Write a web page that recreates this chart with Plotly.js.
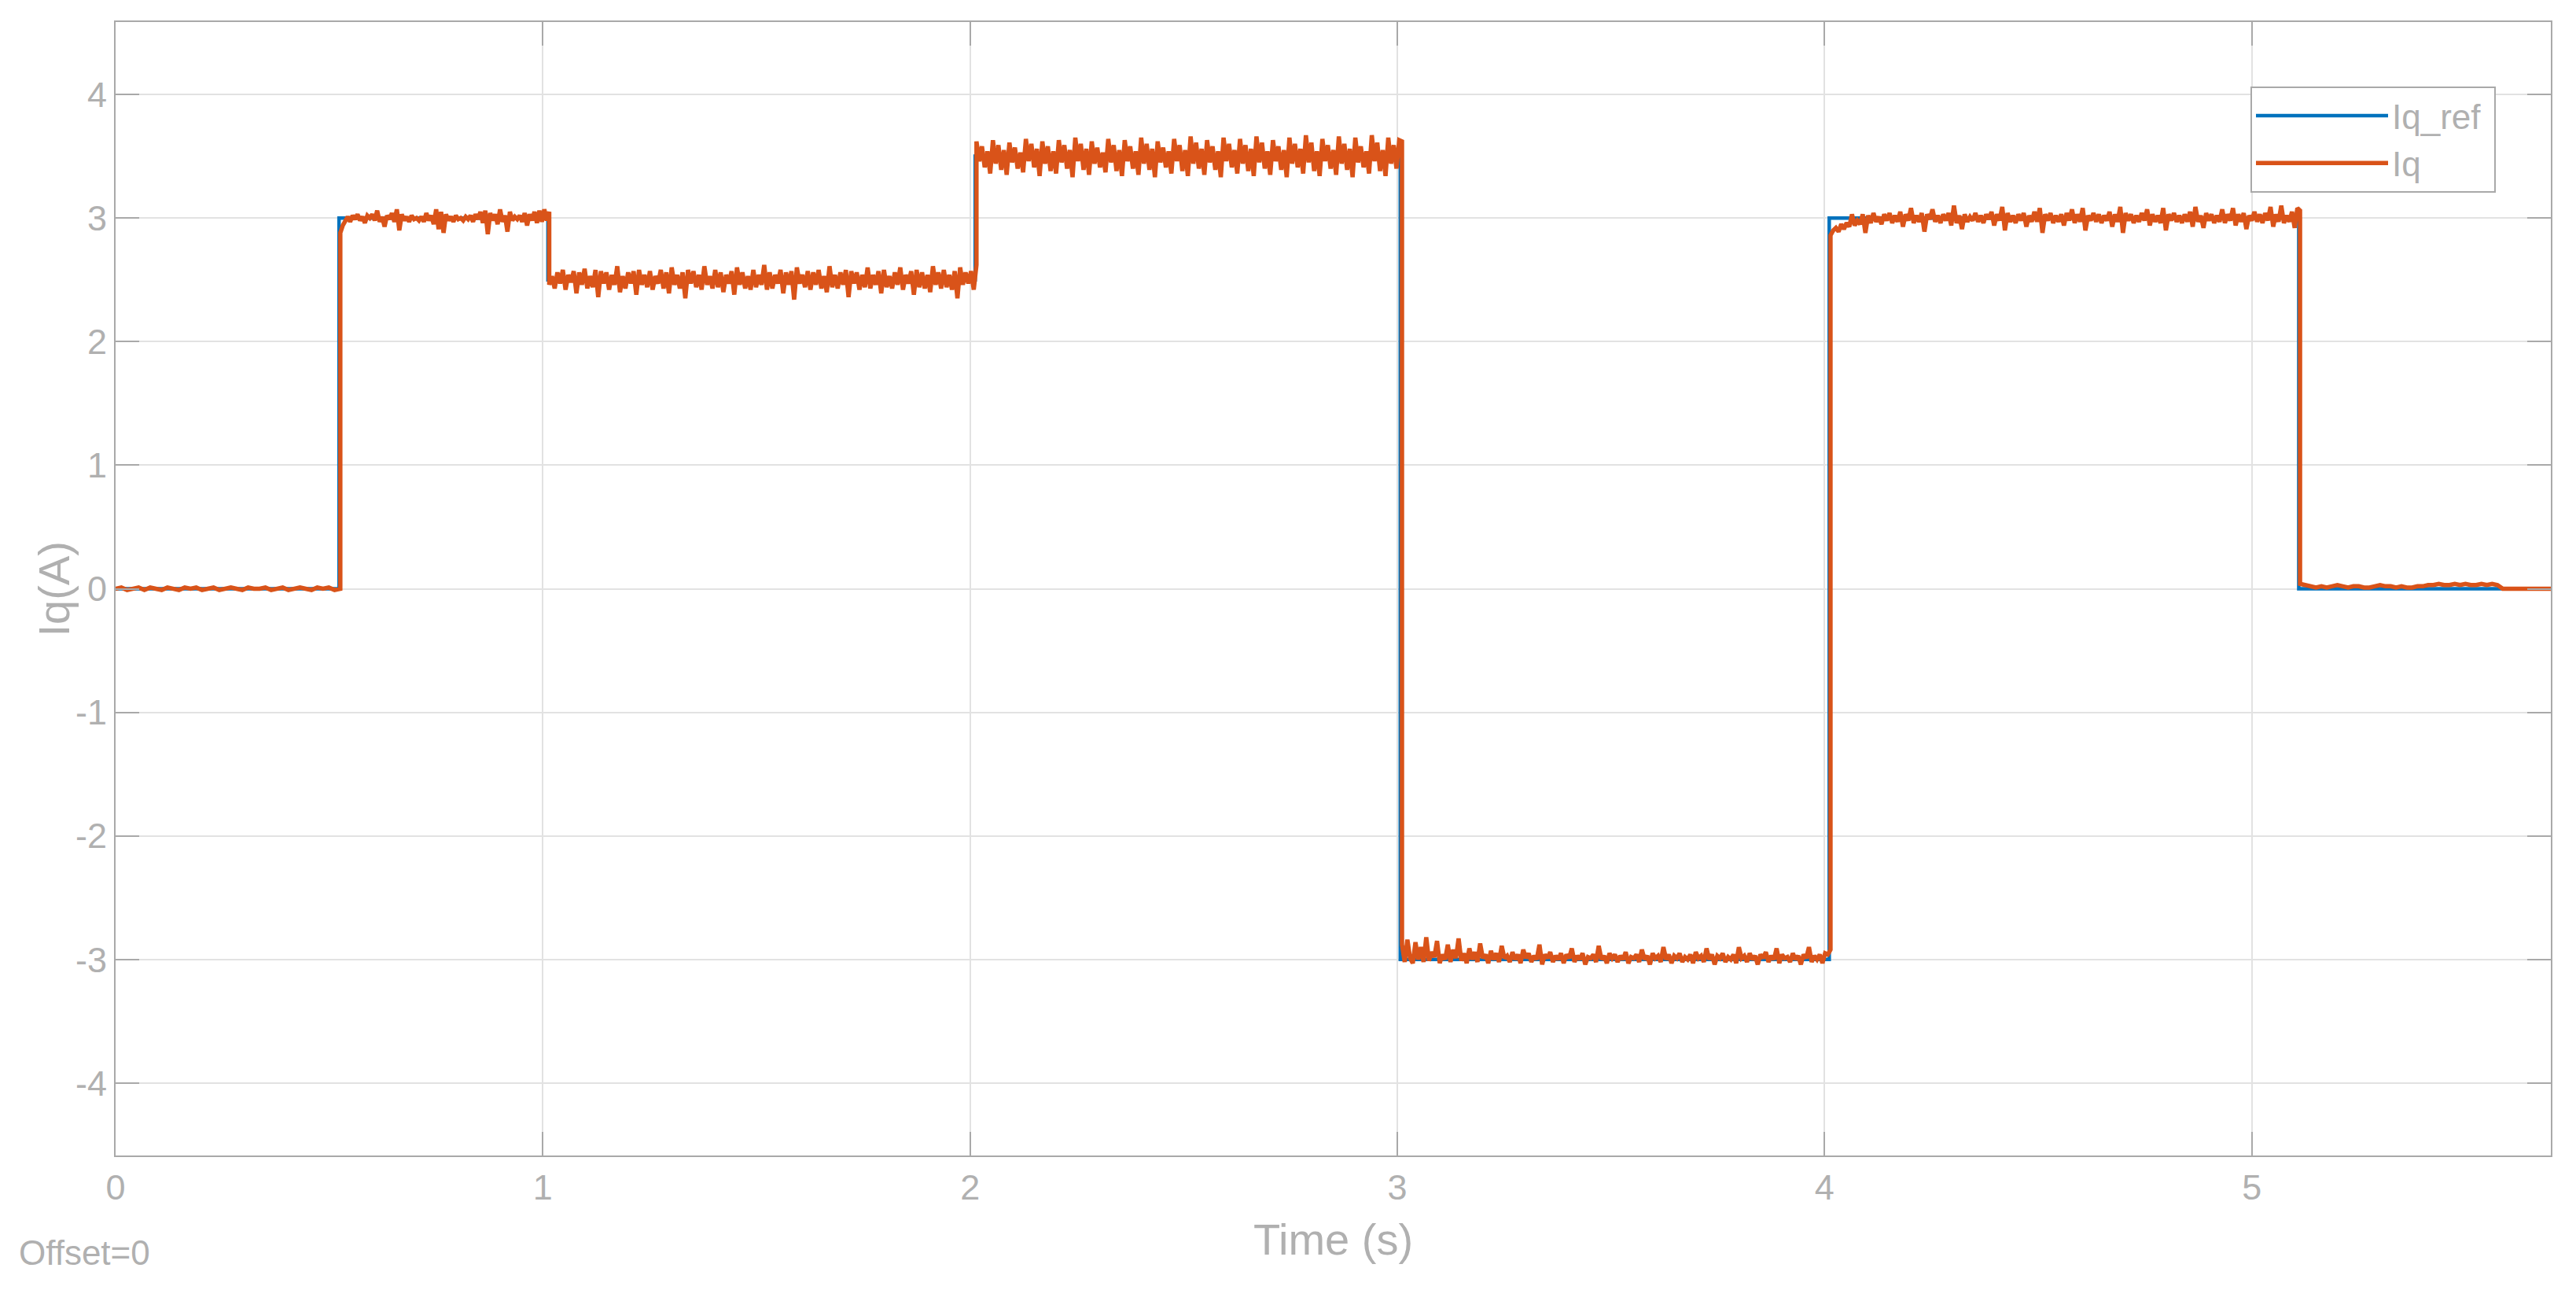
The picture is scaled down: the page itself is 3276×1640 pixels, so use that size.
<!DOCTYPE html>
<html>
<head>
<meta charset="utf-8">
<script src="https://cdn.plot.ly/plotly-3.0.1.min.js"></script>
<style>
html,body{margin:0;padding:0;background:#fff;}
#chart{width:3276px;height:1640px;}
</style>
</head>
<body>
<div id="chart"></div>
<script>
// ---- Reference current Iq_ref (step signal) ----
const refTimes  = [0, 0.523, 1.012, 2.012, 3.007, 4.011, 5.110, 5.7];
const refLevels = [0, 3, 2.5, 3.5, -3, 3, 0, 0];

// ---- Measured current Iq: segment bounds and levels ----
const segStart  = [0, 0.526, 1.015, 2.015, 3.011, 4.014, 5.113];
const segEnd    = [0.526, 1.015, 2.015, 3.011, 4.014, 5.113, 5.7];
const segLevel  = [0, 3, 2.5, 3.5, -3, 3, 0];

// deviations from the level, in units of 0.01 A, read (estimated) from the picture
const devA = [0,1,-1,0,1,-1,1,0,-1,1,0,-1,1,0,1,-1,0,1,-1,0,1,0,-1,1,0,0,1,-1,0,1,-1,0,1,0,-1,1,0,1,-1,0];
const devB = [-12,-6,-2,1,-3,2,-1,3,-2,1,-4,2,0,3,-2,6,-3,1,-7,2,-1,4,-3,7,-10,3,-2,1,-3,2,-1,0,-2,1,-3,4,-2,2,-5,7,-9,5,-12,3,-2,1,-3,2,-1,0,-2,1,-1,2,-3,3,-1,5,-4,6,-13,4,-2,3,-5,7,-3,2,-11,5,-2,1,-1,2,-3,4,-6,3,-2,5,-4,6,-3,7,-2,5];
const devC = [-4,3,-7,6,-3,8,-8,4,-2,7,-11,6,-4,9,-7,3,-6,8,-14,7,-3,6,-8,4,-4,11,-10,3,-7,6,-3,7,-12,8,-4,4,-6,7,-8,3,
  -3,8,-7,6,-11,10,-4,4,-7,6,-15,8,-3,7,-6,4,-8,11,-4,3,-7,8,-6,6,-10,4,-3,7,-12,10,-4,6,-7,3,-8,8,-6,4,-4,12,
  -8,6,-7,4,-3,8,-11,6,-4,7,-16,10,-3,4,-6,7,-8,6,-4,8,-7,3,-10,11,-6,4,-7,6,-4,8,-14,7,-3,6,-8,4,-6,10,
  -7,4,-4,7,-11,8,-6,3,-7,6,-4,10,-8,4,-3,7,-12,8,-6,6,-7,4,-10,11,-4,6,-7,8,-6,4,-8,7,-15,10,-4,6,-3,7,-8,12];
const devD = [12,-4,8,-9,4,-14,  13,-6,9,-11,5,-15,  11,-5,7,-10,3,-13,  14,-4,10,-9,6,-16,
  12,-6,8,-12,4,-14,  13,-5,9,-10,5,-17,  15,-4,10,-11,6,-15,  12,-6,7,-9,3,-13,
  14,-5,9,-12,5,-16,  13,-4,8,-10,4,-15,  15,-6,10,-11,6,-17,  12,-5,7,-9,4,-14,
  14,-4,9,-12,5,-16,  16,-6,11,-10,6,-15,  13,-5,8,-11,4,-17,  15,-4,10,-9,5,-14,
  14,-6,9,-12,6,-16,  16,-5,11,-10,4,-15,  13,-4,8,-11,5,-17,  15,-6,10,-9,6,-14,
  17,-5,11,-12,4,-16,  14,-4,9,-10,5,-15,  16,-6,10,-11,6,-17,  15,-5,8,-9,4,-14,
  17,-4,11,-12,5,-16,  15,-6,9,-10,13,12];
const devE = [12,-2,16,1,-3,14,0,10,-2,18,
  -1,6,2,15,-3,4,0,12,-2,8,
  1,17,-1,5,-3,9,0,6,-2,13,
  1,4,-3,7,0,5,-2,11,1,3,
  -2,6,0,4,-3,8,1,5,-2,3,
  0,12,-4,4,1,6,-2,3,0,5,
  -3,4,1,9,-2,3,0,5,-4,2,
  1,4,-2,11,0,3,-3,5,1,4,
  -2,3,0,6,-3,2,1,4,-2,8,
  0,3,-4,5,1,3,-2,10,0,4,
  -3,3,1,5,-2,2,0,4,-3,6,
  1,3,-2,9,0,4,-4,3,1,5,
  -2,2,0,4,-3,10,1,3,-2,5,
  0,3,-4,4,1,6,-2,3,0,9,
  -3,4,1,2,-2,5,0,3,-4,4,
  1,10,-2,3,0,4,-3,5,4,8];
const devF = [-14,-10,-8,-11,-5,-9,-4,-7,3,-6,
  -2,-5,3,-12,2,-4,4,-3,1,-5,
  3,-2,4,-4,2,-3,5,-7,3,-2,
  8,-4,2,-3,4,-11,3,-1,7,-3,
  2,-4,3,-2,4,-6,10,-4,2,-9,
  3,-3,1,-2,4,-3,2,-4,3,-1,
  5,-6,3,-2,9,-10,4,-3,2,-4,
  3,-2,4,-7,2,-3,5,-3,8,-12,
  3,-2,4,-4,2,-3,3,-6,4,-2,
  7,-4,3,-3,8,-10,2,-2,4,-3,
  3,-4,2,-2,5,-7,3,-3,9,-12,
  4,-2,3,-4,2,-3,4,-2,7,-6,
  3,-3,2,-4,8,-10,3,-2,4,-3,
  2,-4,3,-3,5,-7,9,-3,2,-8,
  4,-2,3,-4,2,-3,7,-4,3,-2,
  8,-6,3,-3,4,-9,2,-2,5,-3,
  3,-4,4,-2,9,-7,3,-3,10,-4,
  2,-3,5,-8,8,6];
const devG = [4,3,2,1,2,1,2,3,2,1,2,2,1,1,2,3,2,2,1,2,1,1,2,2,3,3,4,3,3,4,3,4,3,3,4,3,4,3,0,0,0,0,0,0,0,0,0,0];

const devAll = [devA, devB, devC, devD, devE, devF, devG];

const xTicks = [0, 1, 2, 3, 4, 5];
const yTicks = [-4, -3, -2, -1, 0, 1, 2, 3, 4];

// build Iq series from the segment tables
const iqT = [], iqV = [];
for (let k = 0; k < devAll.length; k++) {
  const d = devAll[k], n = d.length;
  for (let i = 0; i < n; i++) {
    iqT.push(segStart[k] + i * (segEnd[k] - segStart[k]) / (n - 1));
    iqV.push(segLevel[k] + d[i] / 100);
  }
}

const gray = '#a9a9a9';
const txt = '#b0b0b0';
const fam = 'Liberation Sans, Arial, sans-serif';

const traces = [
  {x: refTimes, y: refLevels, type: 'scatter', mode: 'lines', name: 'Iq_ref\u00a0',
   line: {color: '#0072BD', width: 4.5, shape: 'hv'}},
  {x: iqT, y: iqV, type: 'scatter', mode: 'lines', name: 'Iq',
   line: {color: '#D95319', width: 5.5}}
];

const layout = {
  width: 3276, height: 1640,
  margin: {l: 147, r: 32, t: 28, b: 171, pad: 0},
  paper_bgcolor: '#ffffff', plot_bgcolor: '#ffffff',
  font: {family: fam, size: 44, color: txt},
  showlegend: true,
  legend: {
    x: 0.9774, y: 0.9431, xanchor: 'right', yanchor: 'top',
    bgcolor: '#ffffff', bordercolor: gray, borderwidth: 2,
    font: {family: fam, size: 44, color: txt},
    itemwidth: 168, tracegroupgap: 0
  },
  xaxis: {
    range: [0, 5.7], tickvals: xTicks, ticktext: xTicks.map(String),
    ticks: 'inside', ticklen: 30, tickwidth: 2, tickcolor: gray,
    showline: true, linecolor: gray, linewidth: 2, mirror: 'ticks',
    showgrid: true, gridcolor: '#e2e2e2', gridwidth: 2, zeroline: false,
    tickfont: {family: fam, size: 45, color: txt},
    title: {text: 'Time (s)', font: {family: fam, size: 56, color: txt}, standoff: 22},
    automargin: false
  },
  yaxis: {
    range: [-4.586, 4.586], tickvals: yTicks, ticktext: yTicks.map(String),
    ticks: 'inside', ticklen: 30, tickwidth: 2, tickcolor: gray,
    showline: true, linecolor: gray, linewidth: 2, mirror: 'ticks',
    showgrid: true, gridcolor: '#e2e2e2', gridwidth: 2, zeroline: false,
    tickfont: {family: fam, size: 45, color: txt},
    automargin: false
  },
  annotations: [
    {text: 'Iq(A)', xref: 'paper', yref: 'paper', x: -0.0252, y: 0.5,
     xanchor: 'center', yanchor: 'middle', textangle: -90, showarrow: false,
     font: {family: fam, size: 56, color: txt}},
    {text: 'Offset=0', xref: 'paper', yref: 'paper', x: -0.0404, y: -0.086,
     xanchor: 'left', yanchor: 'middle', showarrow: false,
     font: {family: fam, size: 44, color: txt}}
  ]
};

Plotly.newPlot('chart', traces, layout, {displayModeBar: false, staticPlot: true});
</script>
</body>
</html>
